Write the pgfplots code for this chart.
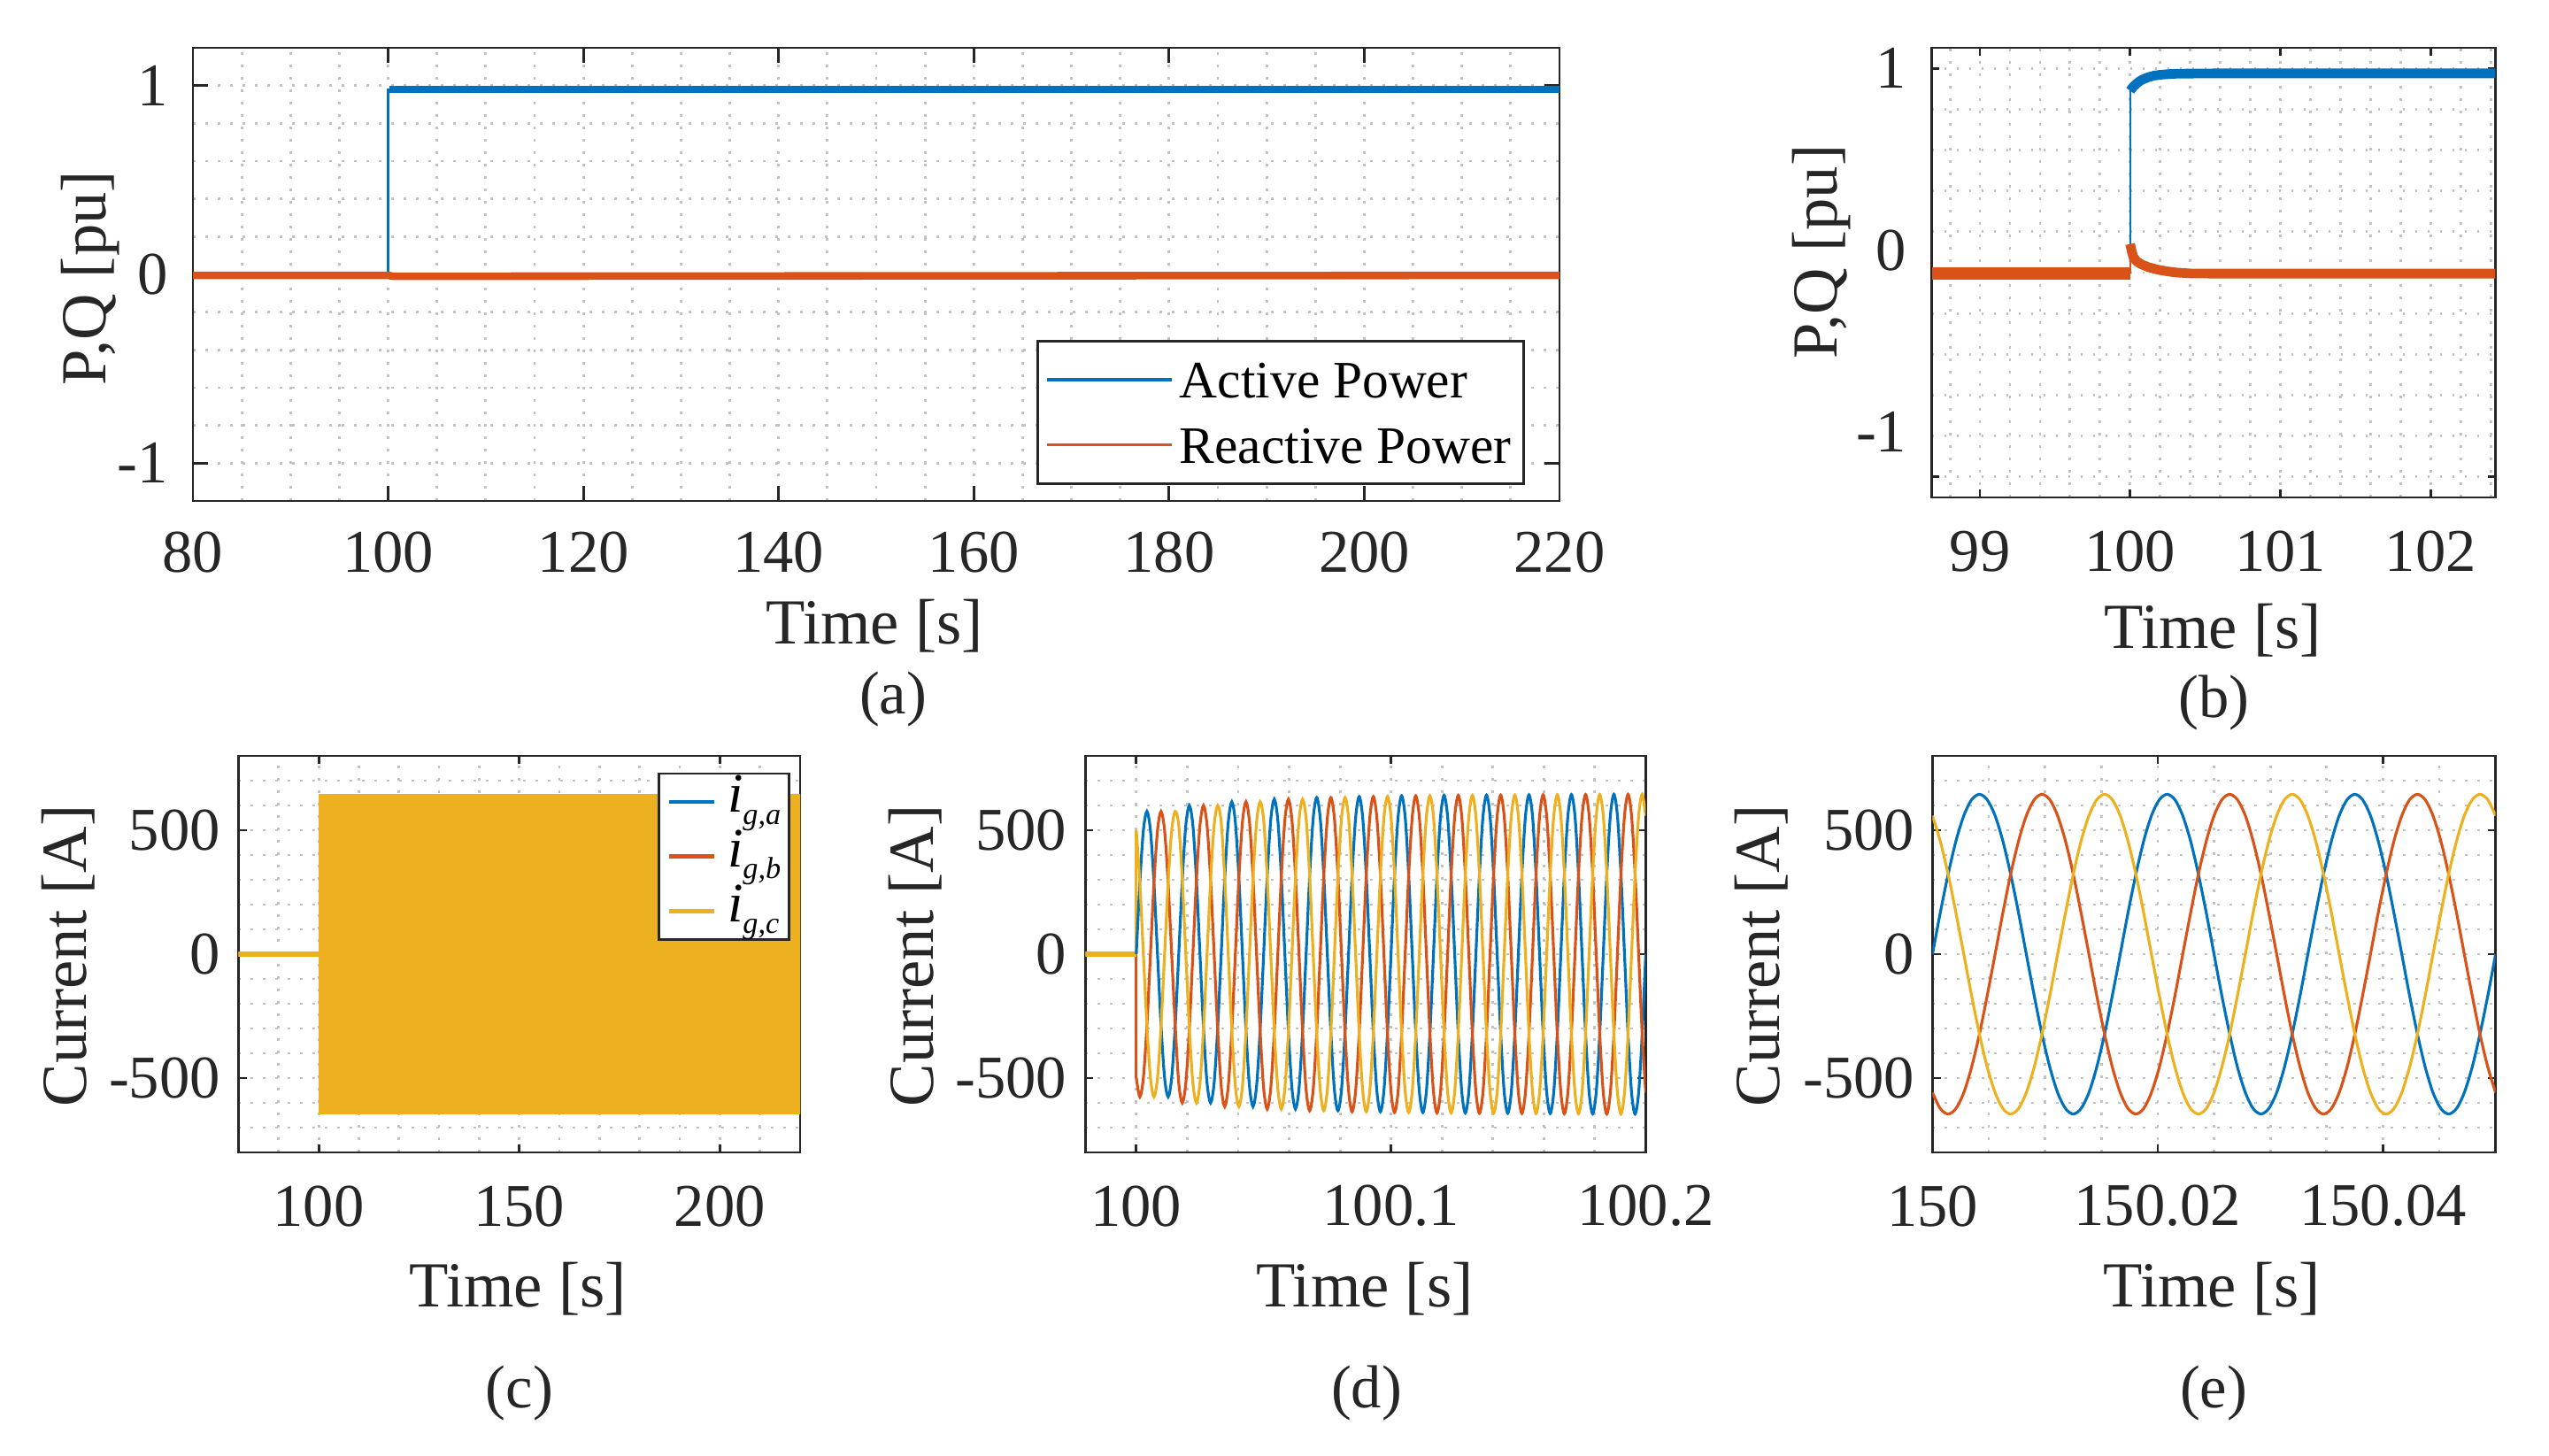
\documentclass[border=0pt]{standalone}
\usepackage{fontspec}
\setmainfont{Liberation Serif}
\usepackage{pgfplots}
\usepackage{pgfplotstable}
\pgfplotsset{compat=1.18}

\definecolor{mblue}{rgb}{0,0.447,0.741}
\definecolor{morange}{rgb}{0.85,0.325,0.098}
\definecolor{myellow}{rgb}{0.929,0.694,0.125}
\definecolor{axgray}{rgb}{0.15,0.15,0.15}
\definecolor{gridgray}{rgb}{0.76,0.76,0.76}

% (d) grid currents, time in ms after t = 100 s
\pgfplotstableread{
t a b c
0.00 0 -498.8 498.8
1.39 288 -576 288
2.78 498.8 -498.8 0
4.17 576 -288 -288
5.56 498.8 0 -498.8
6.94 288 288 -576
8.33 0 498.8 -498.8
9.72 -288 576 -288
11.11 -498.8 498.8 0
12.50 -576 288 288
13.89 -498.8 0 498.8
15.28 -288 -288 576
16.67 0 -519.6 519.6
18.06 300 -600 300
19.44 519.6 -519.6 0
20.83 600 -300 -300
22.22 519.6 0 -519.6
23.61 300 300 -600
25.00 0 519.6 -519.6
26.39 -300 600 -300
27.78 -519.6 519.6 0
29.17 -600 300 300
30.56 -519.6 0 519.6
31.94 -300 -300 600
33.33 0 -532.6 532.6
34.72 307.5 -615 307.5
36.11 532.6 -532.6 0
37.50 615 -307.5 -307.5
38.89 532.6 0 -532.6
40.28 307.5 307.5 -615
41.67 0 532.6 -532.6
43.06 -307.5 615 -307.5
44.44 -532.6 532.6 0
45.83 -615 307.5 307.5
47.22 -532.6 0 532.6
48.61 -307.5 -307.5 615
50.00 0 -541.3 541.3
51.39 312.5 -625 312.5
52.78 541.3 -541.3 0
54.17 625 -312.5 -312.5
55.56 541.3 0 -541.3
56.94 312.5 312.5 -625
58.33 0 541.3 -541.3
59.72 -312.5 625 -312.5
61.11 -541.3 541.3 0
62.50 -625 312.5 312.5
63.89 -541.3 0 541.3
65.28 -312.5 -312.5 625
66.67 0 -547.3 547.3
68.06 316 -632 316
69.44 547.3 -547.3 0
70.83 632 -316 -316
72.22 547.3 0 -547.3
73.61 316 316 -632
75.00 0 547.3 -547.3
76.39 -316 632 -316
77.78 -547.3 547.3 0
79.17 -632 316 316
80.56 -547.3 0 547.3
81.94 -316 -316 632
83.33 0 -550.8 550.8
84.72 318 -636 318
86.11 550.8 -550.8 0
87.50 636 -318 -318
88.89 550.8 0 -550.8
90.28 318 318 -636
91.67 0 550.8 -550.8
93.06 -318 636 -318
94.44 -550.8 550.8 0
95.83 -636 318 318
97.22 -550.8 0 550.8
98.61 -318 -318 636
100.00 0 -553.4 553.4
101.39 319.5 -639 319.5
102.78 553.4 -553.4 0
104.17 639 -319.5 -319.5
105.56 553.4 0 -553.4
106.94 319.5 319.5 -639
108.33 0 553.4 -553.4
109.72 -319.5 639 -319.5
111.11 -553.4 553.4 0
112.50 -639 319.5 319.5
113.89 -553.4 0 553.4
115.28 -319.5 -319.5 639
116.67 0 -555.1 555.1
118.06 320.5 -641 320.5
119.44 555.1 -555.1 0
120.83 641 -320.5 -320.5
122.22 555.1 0 -555.1
123.61 320.5 320.5 -641
125.00 0 555.1 -555.1
126.39 -320.5 641 -320.5
127.78 -555.1 555.1 0
129.17 -641 320.5 320.5
130.56 -555.1 0 555.1
131.94 -320.5 -320.5 641
133.33 0 -556.0 556.0
134.72 321 -642 321
136.11 556.0 -556.0 0
137.50 642 -321 -321
138.89 556.0 0 -556.0
140.28 321 321 -642
141.67 0 556.0 -556.0
143.06 -321 642 -321
144.44 -556.0 556.0 0
145.83 -642 321 321
147.22 -556.0 0 556.0
148.61 -321 -321 642
150.00 0 -556.8 556.8
151.39 321.5 -643 321.5
152.78 556.8 -556.8 0
154.17 643 -321.5 -321.5
155.56 556.8 0 -556.8
156.94 321.5 321.5 -643
158.33 0 556.8 -556.8
159.72 -321.5 643 -321.5
161.11 -556.8 556.8 0
162.50 -643 321.5 321.5
163.89 -556.8 0 556.8
165.28 -321.5 -321.5 643
166.67 0 -557.7 557.7
168.06 322 -644 322
169.44 557.7 -557.7 0
170.83 644 -322 -322
172.22 557.7 0 -557.7
173.61 322 322 -644
175.00 0 557.7 -557.7
176.39 -322 644 -322
177.78 -557.7 557.7 0
179.17 -644 322 322
180.56 -557.7 0 557.7
181.94 -322 -322 644
183.33 0 -558.6 558.6
184.72 322.5 -645 322.5
186.11 558.6 -558.6 0
187.50 645 -322.5 -322.5
188.89 558.6 0 -558.6
190.28 322.5 322.5 -645
191.67 0 558.6 -558.6
193.06 -322.5 645 -322.5
194.44 -558.6 558.6 0
195.83 -645 322.5 322.5
197.22 -558.6 0 558.6
198.61 -322.5 -322.5 645
200.00 0 -558.6 558.6
}\tabD

% (e) grid currents, time in ms after t = 150 s
\pgfplotstableread{
t a b c
0.00 0 -558.6 558.6
0.69 166.9 -623.0 456.1
1.39 322.5 -645 322.5
2.08 456.1 -623.0 166.9
2.78 558.6 -558.6 0
3.47 623.0 -456.1 -166.9
4.17 645 -322.5 -322.5
4.86 623.0 -166.9 -456.1
5.56 558.6 0 -558.6
6.25 456.1 166.9 -623.0
6.94 322.5 322.5 -645
7.64 166.9 456.1 -623.0
8.33 0 558.6 -558.6
9.03 -166.9 623.0 -456.1
9.72 -322.5 645 -322.5
10.42 -456.1 623.0 -166.9
11.11 -558.6 558.6 0
11.81 -623.0 456.1 166.9
12.50 -645 322.5 322.5
13.19 -623.0 166.9 456.1
13.89 -558.6 0 558.6
14.58 -456.1 -166.9 623.0
15.28 -322.5 -322.5 645
15.97 -166.9 -456.1 623.0
16.67 0 -558.6 558.6
17.36 166.9 -623.0 456.1
18.06 322.5 -645 322.5
18.75 456.1 -623.0 166.9
19.44 558.6 -558.6 0
20.14 623.0 -456.1 -166.9
20.83 645 -322.5 -322.5
21.53 623.0 -166.9 -456.1
22.22 558.6 0 -558.6
22.92 456.1 166.9 -623.0
23.61 322.5 322.5 -645
24.31 166.9 456.1 -623.0
25.00 0 558.6 -558.6
25.69 -166.9 623.0 -456.1
26.39 -322.5 645 -322.5
27.08 -456.1 623.0 -166.9
27.78 -558.6 558.6 0
28.47 -623.0 456.1 166.9
29.17 -645 322.5 322.5
29.86 -623.0 166.9 456.1
30.56 -558.6 0 558.6
31.25 -456.1 -166.9 623.0
31.94 -322.5 -322.5 645
32.64 -166.9 -456.1 623.0
33.33 0 -558.6 558.6
34.03 166.9 -623.0 456.1
34.72 322.5 -645 322.5
35.42 456.1 -623.0 166.9
36.11 558.6 -558.6 0
36.81 623.0 -456.1 -166.9
37.50 645 -322.5 -322.5
38.19 623.0 -166.9 -456.1
38.89 558.6 0 -558.6
39.58 456.1 166.9 -623.0
40.28 322.5 322.5 -645
40.97 166.9 456.1 -623.0
41.67 0 558.6 -558.6
42.36 -166.9 623.0 -456.1
43.06 -322.5 645 -322.5
43.75 -456.1 623.0 -166.9
44.44 -558.6 558.6 0
45.14 -623.0 456.1 166.9
45.83 -645 322.5 322.5
46.53 -623.0 166.9 456.1
47.22 -558.6 0 558.6
47.92 -456.1 -166.9 623.0
48.61 -322.5 -322.5 645
49.31 -166.9 -456.1 623.0
50.00 0 -558.6 558.6
}\tabE

\pgfplotsset{
  mstyle/.style={
    scale only axis,
    anchor=south west,
    axis line style={axgray, line width=0.5pt},
    tick style={axgray, line width=0.5pt},
    tick align=inside,
    xtick pos=both, ytick pos=both,
    minor tick length=0pt,
    grid=both,
    major grid style={gridgray, line width=0.5pt, dash pattern=on 0.45pt off 2pt},
    minor grid style={gridgray, line width=0.5pt, dash pattern=on 0.45pt off 2pt},
    tick label style={font=\fontsize{12}{12}\selectfont, text=axgray, inner sep=0pt},
    label style={font=\fontsize{12.7}{13}\selectfont, text=axgray},
    xticklabel style={anchor=center},
    yticklabel style={anchor=east},
    xlabel={Time [s]},
    legend cell align=left,
  },
}

\begin{document}
\begin{tikzpicture}
\useasboundingbox (0,0) rectangle (504pt,287.7pt);

% ---------------- (a) ----------------
\begin{axis}[mstyle,
  at={(38.15pt,188.65pt)}, width=270.2pt, height=89.6pt,
  xmin=80, xmax=220, ymin=-1.2, ymax=1.2,
  xtick={80,100,120,140,160,180,200,220},
  xticklabels={80,100,120,140,160,180,200,220},
  ytick={-1,0,1}, yticklabels={-1,0,1},
  minor xtick={85,90,95,105,110,115,125,130,135,145,150,155,165,170,175,185,190,195,205,210,215},
  minor ytick={-0.8,-0.6,-0.4,-0.2,0.2,0.4,0.6,0.8},
  major tick length=2.9pt,
  xticklabel style={yshift=-10.2pt},
  yticklabel style={xshift=-4.7pt},
  ylabel={P,Q [pu]},
  xlabel style={at={(axis description cs:0.4987,-0.2754)}, anchor=center},
  ylabel style={at={(axis description cs:-0.0751,0.492)}, anchor=center},
  legend style={at={(axis description cs:0.6172,0.3557)}, anchor=north west,
    draw=axgray, line width=0.5pt, fill=white, text=black,
    font=\fontsize{10.4}{12}\selectfont,
    inner xsep=1.5pt, inner ysep=3pt, row sep=3.6pt, column sep=0.2pt,
    nodes={inner sep=1pt, text height=7.3pt, text depth=0pt}},
  legend image code/.code={\draw[#1, line width=0.6pt] (0pt,0pt) -- (24.8pt,0pt);},
]
\addplot[mblue, line width=0.45pt] coordinates {(80,0) (100,0) (100,0.98) (220,0.98)};
\addlegendentry{Active Power}
\addplot[mblue, line width=1.5pt, forget plot] coordinates {(100.15,0.98) (220,0.98)};
\addplot[morange, line width=1.5pt] coordinates {(80,-0.005) (100,-0.005) (100.5,-0.01) (220,-0.005)};
\addlegendentry{Reactive Power}
\end{axis}

% ---------------- (b) ----------------
\begin{axis}[mstyle,
  at={(381.97pt,189.35pt)}, width=111.41pt, height=88.9pt,
  xmin=98.68, xmax=102.43, ymin=-1.1, ymax=1.1,
  xtick={99,100,101,102}, xticklabels={99,100,101,102},
  ytick={-1,0,1},
  yticklabels={{\raisebox{8.9pt}[\height][\depth]{-1}},{\raisebox{4.43pt}[\height][\depth]{0}},{1}},
  minor xtick={98.8,99.2,99.4,99.6,99.8,100.2,100.4,100.6,100.8,101.2,101.4,101.6,101.8,102.2,102.4},
  minor ytick={-0.8,-0.6,-0.4,-0.2,0.2,0.4,0.6,0.8},
  major tick length=1.5pt,
  xticklabel style={yshift=-10.7pt},
  yticklabel style={xshift=-4.8pt},
  ylabel={P,Q [pu]},
  xlabel style={at={(axis description cs:0.4984,-0.2953)}, anchor=center},
  ylabel style={at={(axis description cs:-0.1959,0.546)}, anchor=center},
]
\addplot[mblue, line width=0.45pt] coordinates {(98.68,0) (100,0) (100,0.89)};
\addplot[mblue, line width=1.9pt] coordinates {(100,0.890) (100.01,0.900) (100.02,0.909) (100.04,0.923) (100.06,0.935) (100.08,0.944) (100.12,0.956) (100.16,0.964) (100.2,0.968) (100.25,0.971) (100.3,0.973) (100.4,0.974) (100.6,0.975) (102.43,0.975)};
\addplot[morange, line width=2.5pt] coordinates {(98.68,-0.005) (100,-0.005)};
\addplot[morange, line width=0.45pt] coordinates {(100,-0.005) (100,0.14)};
\addplot[morange, line width=1.9pt] coordinates {(100,0.14) (100.01,0.105) (100.02,0.079) (100.04,0.058) (100.06,0.047) (100.08,0.039) (100.12,0.027) (100.16,0.019) (100.2,0.012) (100.25,0.006) (100.3,0.001) (100.4,-0.004) (100.6,-0.005) (102.43,-0.005)};
\end{axis}

% ---------------- (c) ----------------
\begin{axis}[mstyle,
  at={(47.15pt,59.85pt)}, width=111.05pt, height=78.4pt,
  xmin=80, xmax=220, ymin=-800, ymax=800,
  xtick={100,150,200}, xticklabels={100,150,200},
  ytick={-500,0,500}, yticklabels={-500,0,500},
  minor xtick={90,110,120,130,140,160,170,180,190,210},
  minor ytick={-700,-600,-400,-300,-200,-100,100,200,300,400,600,700},
  major tick length=1.6pt,
  xticklabel style={yshift=-10.6pt},
  yticklabel style={xshift=-3.4pt},
  ylabel={Current [A]},
  xlabel style={at={(axis description cs:0.4973,-0.3438)}, anchor=center},
  ylabel style={at={(axis description cs:-0.3032,0.4955)}, anchor=center},
  legend style={at={(axis description cs:0.747,0.9587)}, anchor=north west,
    draw=axgray, line width=0.5pt, fill=white, text=black,
    font=\fontsize{11}{12}\selectfont,
    inner xsep=1.6pt, inner ysep=0.2pt, row sep=0pt, column sep=2.3pt,
    nodes={inner sep=0pt, text height=7.5pt, text depth=3.3pt}},
  legend image code/.code={\draw[#1, line width=0.8pt] (0pt,0pt) -- (8.8pt,0pt);},
]
\addplot[mblue, line width=1pt, forget plot] coordinates {(80,0) (100,0)};
\addplot[draw=none, fill=mblue, forget plot] coordinates {(100,-646) (100,646) (220,646) (220,-646) (100,-646)};
\addplot[morange, line width=1pt, forget plot] coordinates {(80,0) (100,0)};
\addplot[draw=none, fill=morange, forget plot] coordinates {(100,-646) (100,646) (220,646) (220,-646) (100,-646)};
\addplot[myellow, line width=1pt, forget plot] coordinates {(80,0) (100,0)};
\addplot[draw=none, fill=myellow, forget plot] coordinates {(100,-646) (100,646) (220,646) (220,-646) (100,-646)};
\addlegendimage{mblue}
\addlegendentry{\textit{i}{\fontsize{6}{7}\selectfont\raisebox{-2.3pt}{\textit{g,a}}}}
\addlegendimage{morange}
\addlegendentry{\textit{i}{\fontsize{6}{7}\selectfont\raisebox{-2.3pt}{\textit{g,b}}}}
\addlegendimage{myellow}
\addlegendentry{\textit{i}{\fontsize{6}{7}\selectfont\raisebox{-2.3pt}{\textit{g,c}}}}
\end{axis}

% ---------------- (d) ----------------
\begin{axis}[mstyle,
  at={(214.6pt,59.85pt)}, width=110.8pt, height=78.4pt,
  xmin=-20, xmax=200, ymin=-800, ymax=800,
  xtick={0,100,200}, xticklabels={100,100.1,100.2},
  ytick={-500,0,500}, yticklabels={-500,0,500},
  minor xtick={20,40,60,80,120,140,160,180},
  minor ytick={-700,-600,-400,-300,-200,-100,100,200,300,400,600,700},
  major tick length=1.6pt,
  xticklabel style={yshift=-10.6pt},
  yticklabel style={xshift=-3.5pt},
  ylabel={Current [A]},
  xlabel style={at={(axis description cs:0.4984,-0.3438)}, anchor=center},
  ylabel style={at={(axis description cs:-0.3039,0.4955)}, anchor=center},
]
\addplot[mblue, line width=0.9pt] coordinates {(-20,0) (0,0)};
\addplot[morange, line width=0.9pt] coordinates {(-20,0) (0,0)};
\addplot[morange, line width=0.55pt] coordinates {(0,0) (0,-498.8)};
\addplot[myellow, line width=0.9pt] coordinates {(-20,0) (0,0)};
\addplot[myellow, line width=0.55pt] coordinates {(0,0) (0,498.8)};
\addplot[mblue, line width=0.55pt, smooth] table[x=t, y=a] {\tabD};
\addplot[morange, line width=0.55pt, smooth] table[x=t, y=b] {\tabD};
\addplot[myellow, line width=0.55pt, smooth] table[x=t, y=c] {\tabD};
\end{axis}

% ---------------- (e) ----------------
\begin{axis}[mstyle,
  at={(382.1pt,59.85pt)}, width=111.35pt, height=78.4pt,
  xmin=0, xmax=50, ymin=-800, ymax=800,
  xtick={0,20,40}, xticklabels={150,150.02,150.04},
  ytick={-500,0,500}, yticklabels={-500,0,500},
  minor xtick={5,10,15,25,30,35,45},
  minor ytick={-700,-600,-400,-300,-200,-100,100,200,300,400,600,700},
  major tick length=1.6pt,
  xticklabel style={yshift=-10.6pt},
  yticklabel style={xshift=-3.4pt},
  ylabel={Current [A]},
  xlabel style={at={(axis description cs:0.496,-0.3438)}, anchor=center},
  ylabel style={at={(axis description cs:-0.3038,0.4955)}, anchor=center},
]
\addplot[mblue, line width=0.55pt, smooth] table[x=t, y=a] {\tabE};
\addplot[morange, line width=0.55pt, smooth] table[x=t, y=b] {\tabE};
\addplot[myellow, line width=0.55pt, smooth] table[x=t, y=c] {\tabE};
\end{axis}

% sub-captions
\node[font=\fontsize{12}{12}\selectfont, text=axgray] at (176.6pt,149.45pt) {(a)};
\node[font=\fontsize{12}{12}\selectfont, text=axgray] at (437.7pt,148.75pt) {(b)};
\node[font=\fontsize{12}{12}\selectfont, text=axgray] at (102.7pt,12.25pt) {(c)};
\node[font=\fontsize{12}{12}\selectfont, text=axgray] at (270.2pt,12.25pt) {(d)};
\node[font=\fontsize{12}{12}\selectfont, text=axgray] at (437.7pt,12.25pt) {(e)};
\end{tikzpicture}
\end{document}
